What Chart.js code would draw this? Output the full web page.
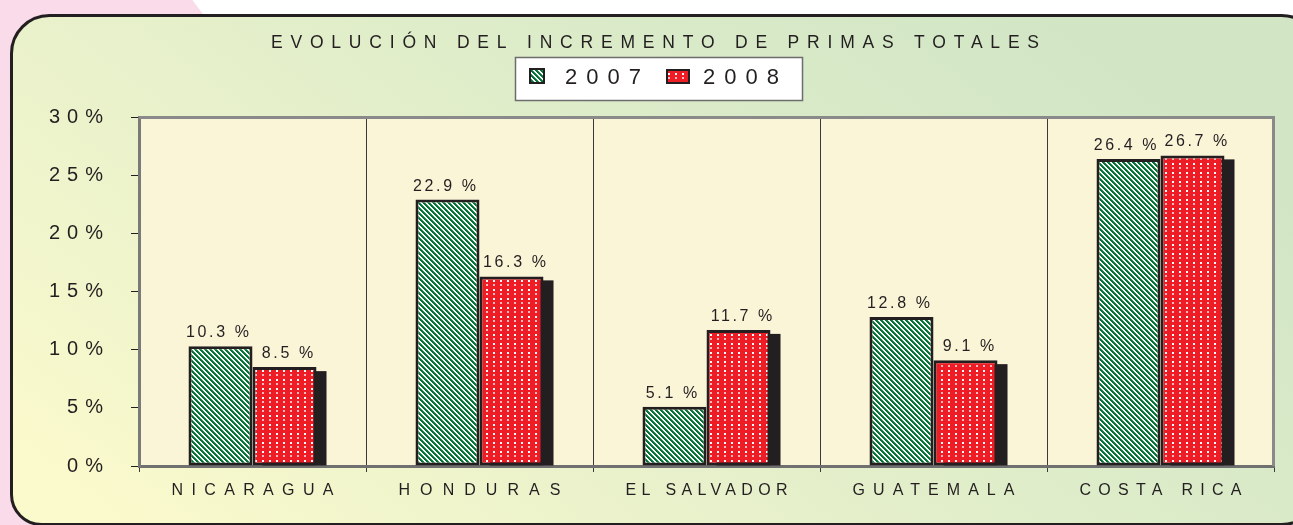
<!DOCTYPE html>
<html><head><meta charset="utf-8">
<script src="https://cdn.jsdelivr.net/npm/chart.js@4"></script>
<style>html,body{margin:0;padding:0;background:#fff;overflow:hidden}#wrap{width:1293px;height:525px}</style>
</head><body><div id="wrap"><canvas id="c" width="1293" height="525"></canvas></div>
<script>
const categories = ['NICARAGUA', 'HONDURAS', 'EL SALVADOR', 'GUATEMALA', 'COSTA RICA'];
const series2007 = [10.3, 22.9, 5.1, 12.8, 26.4];
const series2008 = [8.5, 16.3, 11.7, 9.1, 26.7];
const seriesNames = ['2007', '2008'];
const yTickValues = [0, 5, 10, 15, 20, 25, 30];
const titleText = 'EVOLUCIÓN DEL INCREMENTO DE PRIMAS TOTALES';

const INK = '#231f20';
const FONT = '"Liberation Sans", Arial, sans-serif';

function makeStripe() {
  const n = 5, c = document.createElement('canvas'); c.width = n; c.height = n;
  const g = c.getContext('2d'); const img = g.createImageData(n, n);
  for (let y = 0; y < n; y++) for (let x = 0; x < n; x++) {
    const k = ((x - y) % n + n) % n; const i = (y * n + x) * 4;
    let col = k < 2 ? [4, 115, 56] : (k === 2 ? [40, 140, 80] : [255, 255, 255]);
    img.data[i] = col[0]; img.data[i + 1] = col[1]; img.data[i + 2] = col[2]; img.data[i + 3] = 255;
  }
  g.putImageData(img, 0, 0);
  return document.getElementById('c').getContext('2d').createPattern(c, 'repeat');
}
function makeDots() {
  const c = document.createElement('canvas'); c.width = 7; c.height = 9;
  const g = c.getContext('2d');
  g.fillStyle = '#ee1c25'; g.fillRect(0, 0, 7, 9);
  g.fillStyle = '#ffffff'; g.fillRect(3, 1, 2, 2);
  g.fillStyle = '#f9b8bb'; g.fillRect(3, 5, 2, 2);
  return document.getElementById('c').getContext('2d').createPattern(c, 'repeat');
}
const stripe = makeStripe();
const dots = makeDots();

function textWidth(ctx, text, font, spacing) {
  ctx.save(); ctx.font = font; ctx.letterSpacing = '0px';
  const w = ctx.measureText(text).width + spacing * (text.length - 1);
  ctx.restore(); return w;
}
function spacedText(ctx, text, x, y, font, spacing, align, baseline) {
  const w = textWidth(ctx, text, font, spacing);
  let sx = x;
  if (align === 'center') sx = x - w / 2; else if (align === 'right') sx = x - w;
  ctx.save();
  ctx.font = font; ctx.fillStyle = INK;
  ctx.letterSpacing = spacing + 'px';
  ctx.textAlign = 'left'; ctx.textBaseline = baseline || 'middle';
  ctx.fillText(text, sx, y);
  ctx.restore();
}
function fitSpacing(ctx, text, font, target) {
  const w = textWidth(ctx, text, font, 0);
  return Math.max(2, (target - w) / (text.length - 1));
}

const decor = {
  id: 'decor',
  beforeDraw(chart) {
    const ctx = chart.ctx, a = chart.chartArea;
    ctx.save();
    ctx.fillStyle = '#ffffff'; ctx.fillRect(0, 0, 1293, 525);
    ctx.fillStyle = '#f9dbea';
    ctx.beginPath(); ctx.arc(-200, 310, 500, 0, Math.PI * 2); ctx.fill();
    const gr = ctx.createLinearGradient(100, 540, 700, -250);
    gr.addColorStop(0, '#fbfacc'); gr.addColorStop(0.4, '#e8f1cb');
    gr.addColorStop(0.75, '#d9eac8'); gr.addColorStop(1, '#d2e6c5');
    ctx.beginPath(); ctx.roundRect(11.5, 15.5, 1310, 509, [38, 40, 40, 30]);
    ctx.fillStyle = gr; ctx.fill();
    ctx.lineWidth = 3; ctx.strokeStyle = INK; ctx.stroke();
    ctx.fillStyle = '#fbf5d8';
    ctx.fillRect(a.left, a.top, a.right - a.left, a.bottom - a.top);
    ctx.restore();
  },
  beforeDatasetsDraw(chart) {
    const ctx = chart.ctx, meta = chart.getDatasetMeta(1);
    ctx.save(); ctx.fillStyle = INK;
    meta.data.forEach(b => {
      const p = b.getProps(['x', 'y', 'base', 'width'], true);
      ctx.fillRect(p.x - p.width / 2 + 10, p.y + 4, p.width, p.base - p.y - 4);
    });
    ctx.restore();
  },
  afterDraw(chart) {
    const ctx = chart.ctx, a = chart.chartArea;
    const xs = chart.scales.x, ys = chart.scales.y;
    ctx.save();
    ctx.strokeStyle = '#8a8a8a'; ctx.lineWidth = 3;
    ctx.beginPath(); ctx.moveTo(a.left, a.top + 0.5); ctx.lineTo(a.right - 0.5, a.top + 0.5); ctx.lineTo(a.right - 0.5, a.bottom); ctx.stroke();
    ctx.restore();
    // title
    spacedText(ctx, titleText, 655, 43, '17.5px ' + FONT, 7.8, 'center');
    // legend
    ctx.save();
    ctx.fillStyle = '#ffffff'; ctx.fillRect(515.5, 57.5, 287, 43);
    ctx.strokeStyle = '#6d6d6d'; ctx.lineWidth = 1.5; ctx.strokeRect(515.5, 57.5, 287, 43);
    ctx.fillStyle = stripe; ctx.fillRect(529, 68, 16, 16);
    ctx.strokeStyle = INK; ctx.lineWidth = 2; ctx.strokeRect(530, 69, 14, 14);
    ctx.fillStyle = dots; ctx.fillRect(666, 69, 24, 15);
    ctx.strokeRect(667, 70, 22, 13);
    ctx.restore();
    spacedText(ctx, seriesNames[0], 565, 78, '22px ' + FONT, 9, 'left');
    spacedText(ctx, seriesNames[1], 703, 78, '22px ' + FONT, 9, 'left');
    // y tick labels
    ys.ticks.forEach(t => {
      spacedText(ctx, t.value + '%', 103, ys.getPixelForValue(t.value), '20px ' + FONT, 7, 'right');
    });
    // category labels
    const cf = '16px ' + FONT;
    categories.forEach((c, i) => {
      spacedText(ctx, c, xs.getPixelForValue(i), 491, cf, fitSpacing(ctx, c, cf, 162), 'center');
    });
    // data labels, pushed apart when the pair would overlap
    const lf = '16px ' + FONT, ls = 2.6;
    const m0 = chart.getDatasetMeta(0), m1 = chart.getDatasetMeta(1);
    categories.forEach((c, i) => {
      const t0 = series2007[i].toFixed(1) + ' %', t1 = series2008[i].toFixed(1) + ' %';
      const p0 = m0.data[i].getProps(['x', 'y'], true), p1 = m1.data[i].getProps(['x', 'y'], true);
      let x0 = p0.x - 3, x1 = p1.x + 3;
      const w0 = textWidth(ctx, t0, lf, ls), w1 = textWidth(ctx, t1, lf, ls);
      const y0 = p0.y - 9, y1 = p1.y - 9;
      if (Math.abs(y0 - y1) < 16) {
        const overlap = (x0 + w0 / 2 + 8) - (x1 - w1 / 2);
        if (overlap > 0) { x0 -= overlap / 2; x1 += overlap / 2; }
      }
      spacedText(ctx, t0, x0, y0, lf, ls, 'center', 'alphabetic');
      spacedText(ctx, t1, x1, y1, lf, ls, 'center', 'alphabetic');
    });
  }
};

new Chart(document.getElementById('c'), {
  type: 'bar',
  data: {
    labels: categories,
    datasets: [
      { label: seriesNames[0], data: series2007, backgroundColor: stripe, borderColor: INK, borderWidth: 3, borderSkipped: false, categoryPercentage: 0.564, barPercentage: 1 },
      { label: seriesNames[1], data: series2008, backgroundColor: dots, borderColor: INK, borderWidth: 3, borderSkipped: false, categoryPercentage: 0.564, barPercentage: 1 }
    ]
  },
  options: {
    responsive: false, animation: false, devicePixelRatio: 1,
    layout: { padding: { left: 0, top: 117, right: 19, bottom: 0 } },
    plugins: { legend: { display: false }, title: { display: false }, tooltip: { enabled: false } },
    scales: {
      x: {
        grid: { offset: true, color: '#3a3a3a', lineWidth: 1, drawOnChartArea: true, tickLength: 6, tickColor: '#3a3a3a' },
        border: { color: '#707070', width: 3 },
        ticks: { display: false },
        afterFit(s) { s.height = 59; }
      },
      y: {
        min: 0, max: 30,
        afterBuildTicks(s) { s.ticks = yTickValues.map(v => ({ value: v })); },
        grid: { drawOnChartArea: false, tickLength: 8, color: INK },
        border: { color: '#7a7a7a', width: 3 },
        ticks: { display: false },
        afterFit(s) { s.width = 139; }
      }
    }
  },
  plugins: [decor]
});
</script>
</body></html>
